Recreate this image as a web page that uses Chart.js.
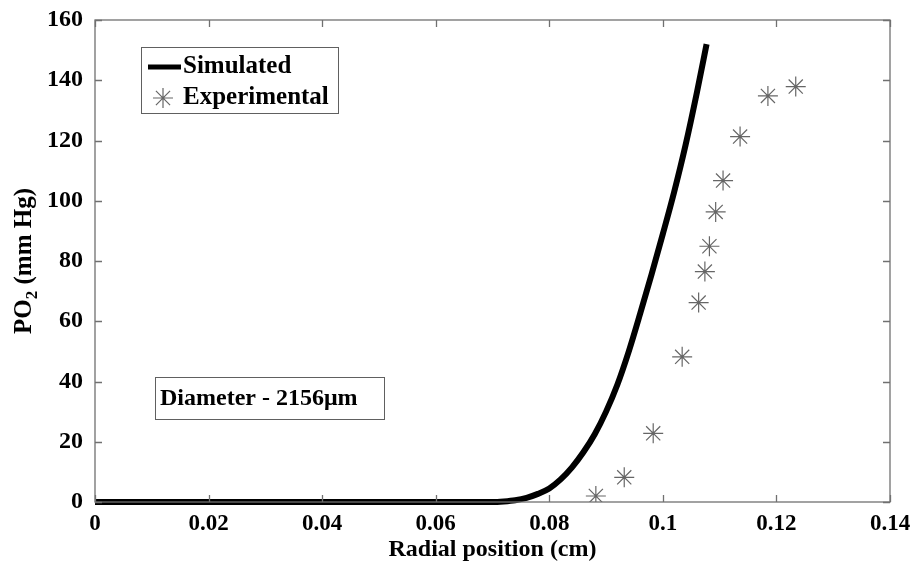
<!DOCTYPE html>
<html>
<head>
<meta charset="utf-8">
<script src="https://cdn.jsdelivr.net/npm/chart.js@4"></script>
<style>
  html, body { margin: 0; padding: 0; background: #fff; }
  #wrap { width: 917px; height: 562px; position: relative; }
</style>
</head>
<body>
<div id="wrap"><canvas id="po2Chart"></canvas></div>
<script>
// simulated profile (radial position cm -> PO2 mm Hg)
const SIM_X = [0, 0.070, 0.072, 0.074, 0.076, 0.078, 0.080, 0.082, 0.084, 0.086, 0.088, 0.090, 0.092, 0.094, 0.096, 0.098, 0.100, 0.102, 0.104, 0.106, 0.1077];
const SIM_Y = [0, 0, 0.2, 0.6, 1.4, 2.7, 4.5, 7.5, 11.5, 16.5, 22.5, 30, 39, 50, 62.5, 75.5, 89, 103, 118.5, 136, 152];
// experimental points
const EXP_X = [0.0882, 0.0932, 0.0983, 0.1034, 0.1063, 0.1074, 0.1082, 0.1093, 0.1106, 0.1136, 0.1185, 0.1234];
const EXP_Y = [2.0, 8.2, 22.8, 48.2, 66.2, 76.5, 84.9, 96.3, 106.7, 121.3, 134.8, 137.9];
const X_TICKS = [0, 0.02, 0.04, 0.06, 0.08, 0.1, 0.12, 0.14];
const Y_TICKS = [0, 20, 40, 60, 80, 100, 120, 140, 160];
const LEGEND_LABELS = ['Simulated', 'Experimental'];
const NOTE_TEXT = 'Diameter - 2156\u03bcm';

const FONT = '"Liberation Serif", "Times New Roman", serif';
const pts = (xs, ys) => xs.map((x, i) => ({ x: x, y: ys[i] }));

// matlab-ish frame: box + inward ticks on all four sides
const framePlugin = {
    id: 'frame',
    afterDraw(chart) {
        const { ctx, chartArea: a, scales } = chart;
        ctx.save();
        ctx.strokeStyle = '#707070';
        ctx.lineWidth = 1.3;
        ctx.strokeRect(a.left, a.top, a.right - a.left, a.bottom - a.top);
        ctx.beginPath();
        X_TICKS.forEach(v => {
            const px = Math.round(scales.x.getPixelForValue(v)) + 0.5;
            ctx.moveTo(px, a.bottom); ctx.lineTo(px, a.bottom - 7);
            ctx.moveTo(px, a.top); ctx.lineTo(px, a.top + 7);
        });
        Y_TICKS.forEach(v => {
            const py = Math.round(scales.y.getPixelForValue(v)) + 0.5;
            ctx.moveTo(a.left, py); ctx.lineTo(a.left + 7, py);
            ctx.moveTo(a.right, py); ctx.lineTo(a.right - 7, py);
        });
        ctx.stroke();

        // y title with subscript
        ctx.fillStyle = '#000';
        ctx.translate(25, (a.top + a.bottom) / 2);
        ctx.rotate(-Math.PI / 2);
        ctx.textBaseline = 'middle';
        const big = 'bold 25px ' + FONT, small = 'bold 17px ' + FONT;
        ctx.font = big;
        const w1 = ctx.measureText('PO').width;
        const w3 = ctx.measureText(' (mm Hg)').width;
        ctx.font = small;
        const w2 = ctx.measureText('2').width;
        let x0 = -(w1 + w2 + w3) / 2;
        ctx.textAlign = 'left';
        ctx.font = big;
        ctx.fillText('PO', x0, 0);
        ctx.font = small;
        ctx.fillText('2', x0 + w1, 8);
        ctx.font = big;
        ctx.fillText(' (mm Hg)', x0 + w1 + w2, 0);
        ctx.restore();

        // legend box
        ctx.save();
        ctx.fillStyle = '#fff';
        ctx.strokeStyle = '#606060';
        ctx.lineWidth = 1;
        ctx.fillRect(141.5, 47.5, 197, 66);
        ctx.strokeRect(141.5, 47.5, 197, 66);
        ctx.strokeStyle = '#000';
        ctx.lineWidth = 5;
        ctx.beginPath(); ctx.moveTo(148, 67); ctx.lineTo(181, 67); ctx.stroke();
        ctx.strokeStyle = '#666';
        ctx.lineWidth = 1.2;
        const sx = 163, sy = 98, r = 10;
        ctx.beginPath();
        ctx.moveTo(sx - r, sy); ctx.lineTo(sx + r, sy);
        ctx.moveTo(sx, sy - r); ctx.lineTo(sx, sy + r);
        const d = r * 0.707;
        ctx.moveTo(sx - d, sy - d); ctx.lineTo(sx + d, sy + d);
        ctx.moveTo(sx - d, sy + d); ctx.lineTo(sx + d, sy - d);
        ctx.stroke();
        ctx.fillStyle = '#000';
        ctx.font = 'bold 25px ' + FONT;
        ctx.textBaseline = 'middle';
        ctx.fillText(LEGEND_LABELS[0], 183, 67);
        ctx.fillText(LEGEND_LABELS[1], 183, 98);

        // diameter note
        ctx.strokeStyle = '#606060';
        ctx.lineWidth = 1;
        ctx.strokeRect(155.5, 377.5, 229, 42);
        ctx.font = 'bold 24px ' + FONT;
        ctx.fillText(NOTE_TEXT, 160, 399);
        ctx.restore();
    }
};

new Chart(document.getElementById('po2Chart'), {
    type: 'scatter',
    data: {
        datasets: [
            { label: LEGEND_LABELS[0], data: pts(SIM_X, SIM_Y), showLine: true, borderColor: '#000', borderWidth: 6, pointRadius: 0, cubicInterpolationMode: 'monotone', clip: false },
            { label: LEGEND_LABELS[1], data: pts(EXP_X, EXP_Y), pointStyle: 'star', pointRadius: 10, borderColor: '#666', borderWidth: 1.2, backgroundColor: '#666' },
            { label: 'centres', data: pts(EXP_X, EXP_Y), pointStyle: 'circle', pointRadius: 1, borderWidth: 0, backgroundColor: '#000' }
        ]
    },
    options: {
        responsive: true,
        maintainAspectRatio: false,
        animation: false,
        layout: { padding: { top: 20, right: 27, left: 0, bottom: 0 } },
        plugins: { legend: { display: false }, tooltip: { enabled: false } },
        scales: {
            x: {
                type: 'linear', min: 0, max: 0.14,
                afterFit: s => { s.height = 60; },
                afterBuildTicks: s => { s.ticks = X_TICKS.map(v => ({ value: v })); },
                grid: { display: false },
                border: { display: false },
                ticks: { color: '#000', padding: 0, maxRotation: 0, font: { family: FONT, size: 23, weight: 'bold' }, callback: v => String(+v.toFixed(2)) },
                title: { display: true, text: 'Radial position (cm)', color: '#000', padding: { top: 0, bottom: 0 }, font: { family: FONT, size: 24, weight: 'bold', lineHeight: 1.0 } }
            },
            y: {
                type: 'linear', min: 0, max: 160,
                afterFit: s => { s.width = 95; },
                afterBuildTicks: s => { s.ticks = Y_TICKS.map(v => ({ value: v })); },
                grid: { display: false },
                border: { display: false },
                ticks: { color: '#000', padding: 4, font: { family: FONT, size: 24, weight: 'bold' } }
            }
        }
    },
    plugins: [framePlugin]
});
</script>
</body>
</html>
